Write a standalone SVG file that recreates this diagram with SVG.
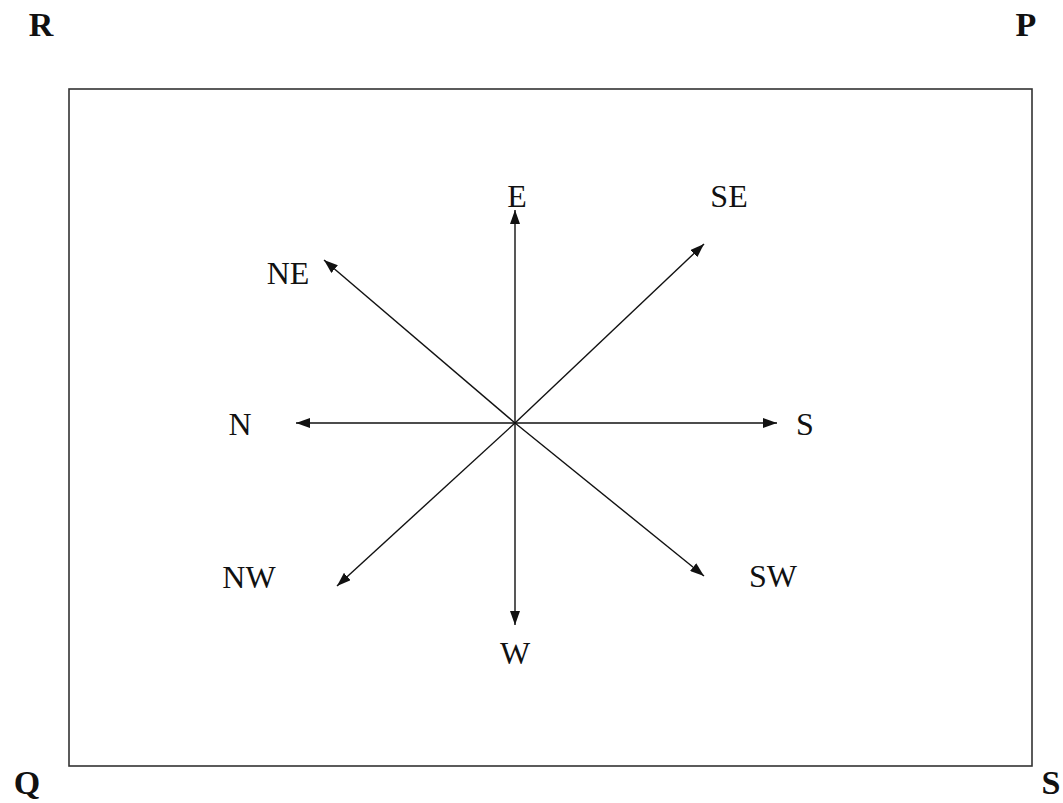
<svg xmlns="http://www.w3.org/2000/svg" width="1063" height="803" viewBox="0 0 1063 803">
<style>
.lbl{font-family:"Liberation Serif","Times New Roman",serif;font-size:32px;fill:#111;text-anchor:middle}
.corner{font-family:"Liberation Serif","Times New Roman",serif;font-size:34px;font-weight:bold;fill:#111;text-anchor:middle}
.arr{stroke:#111;stroke-width:1.4;fill:none;marker-end:url(#ah)}
</style>
<defs>
<marker id="ah" viewBox="0 0 14 10" refX="14" refY="5" markerWidth="14" markerHeight="10" markerUnits="userSpaceOnUse" orient="auto">
<path d="M0,0 L14,5 L0,10 Z" fill="#111"/>
</marker>
</defs>
<rect x="0" y="0" width="1063" height="803" fill="#fff"/>
<g id="frame">
<rect x="69" y="89" width="963" height="677" fill="none" stroke="#333" stroke-width="1.6"/>
</g>
<g id="corners">
<text class="corner" x="41" y="36">R</text>
<text class="corner" x="1026" y="36">P</text>
<text class="corner" x="27" y="794">Q</text>
<text class="corner" x="1051" y="794">S</text>
</g>
<g id="connectors">
<line class="arr" x1="515" y1="423" x2="515" y2="210"/>
<line class="arr" x1="515" y1="423" x2="515" y2="625"/>
<line class="arr" x1="515" y1="423" x2="296" y2="423"/>
<line class="arr" x1="515" y1="423" x2="777" y2="423"/>
<line class="arr" x1="515" y1="423" x2="324" y2="260"/>
<line class="arr" x1="515" y1="423" x2="704" y2="244"/>
<line class="arr" x1="515" y1="423" x2="337" y2="586"/>
<line class="arr" x1="515" y1="423" x2="704" y2="576"/>
</g>
<g id="node-E"><text class="lbl" x="517" y="207">E</text></g>
<g id="node-NE"><text class="lbl" x="288" y="284">NE</text></g>
<g id="node-SE"><text class="lbl" x="729" y="207">SE</text></g>
<g id="node-N"><text class="lbl" x="240" y="435">N</text></g>
<g id="node-S"><text class="lbl" x="805" y="435">S</text></g>
<g id="node-NW"><text class="lbl" x="249" y="588">NW</text></g>
<g id="node-W"><text class="lbl" x="515" y="664">W</text></g>
<g id="node-SW"><text class="lbl" x="773" y="587">SW</text></g>
</svg>
